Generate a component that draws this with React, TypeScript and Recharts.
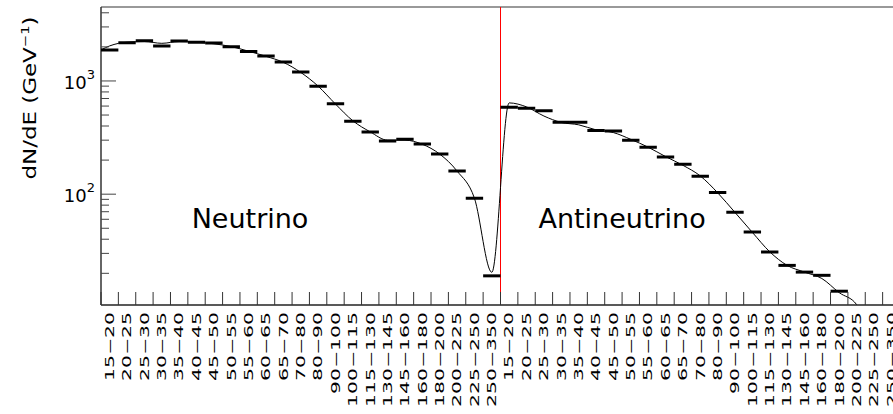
import React from 'react';
import {
  ComposedChart,
  Scatter,
  Line,
  XAxis,
  YAxis,
  ReferenceLine,
  ReferenceDot,
  Label,
} from 'recharts';

// energy bins (GeV), same binning for both halves
const neutrinoBins = [
  '15−20', '20−25', '25−30', '30−35', '35−40', '40−45', '45−50', '50−55',
  '55−60', '60−65', '65−70', '70−80', '80−90', '90−100', '100−115', '115−130',
  '130−145', '145−160', '160−180', '180−200', '200−225', '225−250', '250−350',
];
const antineutrinoBins = [...neutrinoBins];

// measured dN/dE per bin
const neutrinoFlux = [
  1880, 2180, 2270, 2040, 2250, 2200, 2160, 2010, 1820, 1660, 1470, 1200,
  900, 630, 440, 355, 295, 305, 278, 226, 160, 92, 19,
];
const antineutrinoFlux = [
  586, 574, 546, 431, 431, 366, 361, 300, 260, 213, 184, 144,
  103.5, 69.3, 46.3, 30.9, 23.5, 20.5, 19.2, 13.9, null, null, null,
];

// smooth fit curve, read at the left edge and at each bin centre
const fitStart = 1880;
const neutrinoFit = [
  2040, 2200, 2230, 2150, 2230, 2200, 2130, 2010, 1830, 1650, 1460, 1190,
  900, 625, 445, 355, 300, 300, 276, 226, 160, 92, 20.4,
];
const antineutrinoFit = [
  640, 590, 490, 430, 410, 370, 350, 305, 260, 215, 180, 145,
  103, 69, 46, 31, 23.5, 20.5, 18, 13.5, 10.6, 5, 3,
];

const yTicks = [
  20, 30, 40, 50, 60, 70, 80, 90, 100, 200, 300, 400, 500, 600, 700, 800, 900,
  1000, 2000, 3000, 4000,
];
const Y_MIN = 10.5;
const Y_MAX = 4500;

const binLabels = [...neutrinoBins, ...antineutrinoBins];
const allFlux = [...neutrinoFlux, ...antineutrinoFlux];
const allFit = [...neutrinoFit, ...antineutrinoFit];
const NBINS = binLabels.length;

const data = [
  { x: 0, fit: fitStart },
  ...binLabels.map((label, i) => ({ x: i + 0.5, label, flux: allFlux[i], fit: allFit[i] })),
];
const points = data.filter((d) => d.flux != null);

const CHART_W = 912;
const CHART_H = 414;
const PLOT_LEFT = 101;
const PLOT_RIGHT = 900;
const BIN_W = (PLOT_RIGHT - PLOT_LEFT) / NBINS;
const FONT = 'DejaVu Sans';

const Dash = (props: any) => {
  const { cx, cy } = props;
  if (cx == null || cy == null) return null;
  return (
    <line x1={cx - BIN_W / 2} x2={cx + BIN_W / 2} y1={cy} y2={cy} stroke="#000" strokeWidth={3} />
  );
};

const XTick = (props: any) => {
  const { x, y, payload } = props;
  const idx = Math.round(payload.value - 0.5);
  const edge = x - BIN_W / 2;
  return (
    <g>
      <line x1={edge} x2={edge} y1={y} y2={y - 13} stroke="#333" strokeWidth={1} />
      <text
        transform={`translate(${x + 4.3},${y + 7}) rotate(-90) scale(1.7,1)`}
        textAnchor="end"
        fontSize={12}
        fontFamily={FONT}
        fill="#000"
      >
        {binLabels[idx]}
      </text>
    </g>
  );
};

const YTick = (props: any) => {
  const { x, y, payload } = props;
  const v = payload.value;
  const major = v === 100 || v === 1000;
  return (
    <g>
      <line x1={x} x2={x + (major ? 15 : 8)} y1={y} y2={y} stroke="#444" strokeWidth={1} />
      {major && (
        <text x={x - 6} y={y + 8} textAnchor="end" fontSize={18} fontFamily={FONT} fill="#000">
          10
          <tspan dy={-10} fontSize={13}>
            {v === 100 ? '2' : '3'}
          </tspan>
        </text>
      )}
    </g>
  );
};

const YTitle = () => (
  <text
    transform="translate(36,98) rotate(-90) scale(1.35,1)"
    textAnchor="middle"
    fontSize={17}
    fontFamily={FONT}
    fill="#000"
  >
    dN/dE (GeV
    <tspan dy={-7} fontSize={11}>
      −1
    </tspan>
    <tspan dy={7}>)</tspan>
  </text>
);

export default function App() {
  return (
    <div
      style={{
        position: 'absolute',
        left: 0,
        top: 0,
        width: 893,
        height: 414,
        overflow: 'hidden',
        background: '#fff',
      }}
    >
      <ComposedChart
        width={CHART_W}
        height={CHART_H}
        data={data}
        margin={{ top: 7, right: CHART_W - PLOT_RIGHT, bottom: 0, left: 0 }}
      >
        <XAxis
          dataKey="x"
          type="number"
          domain={[0, NBINS]}
          ticks={binLabels.map((_, i) => i + 0.5)}
          interval={0}
          tickSize={0}
          tickMargin={0}
          tickLine={false}
          tick={<XTick />}
          height={CHART_H - 305}
          axisLine={{ stroke: '#222', strokeWidth: 1.5 }}
        />
        <YAxis
          scale="log"
          domain={[Y_MIN, Y_MAX]}
          allowDataOverflow
          ticks={yTicks}
          interval={0}
          tickSize={0}
          tickMargin={0}
          tickLine={false}
          tick={<YTick />}
          width={PLOT_LEFT}
          axisLine={{ stroke: '#333', strokeWidth: 1.5 }}
        >
          <Label content={<YTitle />} />
        </YAxis>
        <ReferenceLine y={Y_MAX} stroke="#777" strokeWidth={1.5} />
        <ReferenceLine x={neutrinoBins.length} stroke="#ff0000" strokeWidth={1} />
        <Line
          dataKey="fit"
          type="monotone"
          stroke="#000"
          strokeWidth={1}
          dot={false}
          isAnimationActive={false}
        />
        <Scatter data={points} dataKey="flux" shape={<Dash />} isAnimationActive={false} />
        <ReferenceDot
          x={8.58}
          y={61}
          r={0}
          label={{ value: 'Neutrino', position: 'center', fontSize: 27, fontFamily: FONT, fill: '#000' }}
        />
        <ReferenceDot
          x={30}
          y={61}
          r={0}
          label={{ value: 'Antineutrino', position: 'center', fontSize: 27, fontFamily: FONT, fill: '#000' }}
        />
      </ComposedChart>
    </div>
  );
}
